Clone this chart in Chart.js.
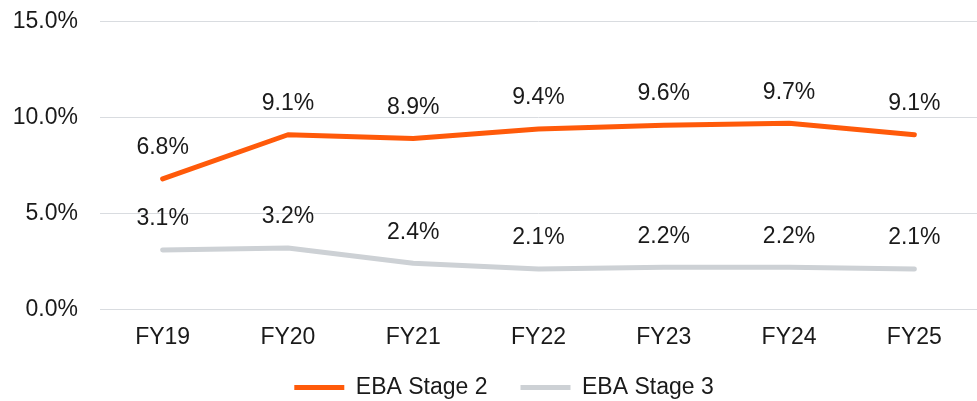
<!DOCTYPE html>
<html>
<head>
<meta charset="utf-8">
<script src="https://cdn.jsdelivr.net/npm/chart.js@4"></script>
<style>
html,body{margin:0;padding:0;background:#fff;}
#wrap{width:977px;height:401px;position:relative;}
</style>
</head>
<body>
<div id="wrap"><canvas id="c"></canvas></div>
<script>
const categories = ['FY19','FY20','FY21','FY22','FY23','FY24','FY25'];
const stage2 = [6.8, 9.1, 8.9, 9.4, 9.6, 9.7, 9.1];
const stage3 = [3.1, 3.2, 2.4, 2.1, 2.2, 2.2, 2.1];
const yTicks = [0, 5, 10, 15];

const FONT = '"Liberation Sans", Arial, sans-serif';
const FS = 23;

const labelPlugin = {
  id: 'valueLabels',
  afterDatasetsDraw(chart) {
    const ctx = chart.ctx;
    ctx.save();
    ctx.font = FS + 'px ' + FONT;
    ctx.fillStyle = '#1a1a1a';
    ctx.textAlign = 'center';
    ctx.textBaseline = 'middle';
    chart.data.datasets.forEach((ds, i) => {
      const meta = chart.getDatasetMeta(i);
      meta.data.forEach((pt, j) => {
        ctx.fillText(ds.data[j].toFixed(1) + '%', pt.x, pt.y - 31);
      });
    });
    ctx.restore();
  }
};

// nudge the legend drawing position
const legendNudge = {
  id: 'legendNudge',
  beforeUpdate(chart) {
    const lg = chart.legend;
    if (lg && !lg._nudged) {
      const orig = lg.draw;
      lg.draw = function (...args) {
        const c = this.ctx;
        c.save();
        c.translate(7, -22);
        orig.apply(this, args);
        c.restore();
      };
      lg._nudged = true;
    }
  }
};

new Chart(document.getElementById('c'), {
  type: 'line',
  data: {
    labels: categories,
    datasets: [
      { label: 'EBA Stage 2', data: stage2, borderColor: '#FF5A0A', backgroundColor: '#FF5A0A', borderWidth: 5, pointRadius: 0, tension: 0, borderCapStyle: 'round', borderJoinStyle: 'round' },
      { label: 'EBA Stage 3', data: stage3, borderColor: '#CDD1D5', backgroundColor: '#CDD1D5', borderWidth: 5, pointRadius: 0, tension: 0, borderCapStyle: 'round', borderJoinStyle: 'round' }
    ]
  },
  options: {
    responsive: true,
    maintainAspectRatio: false,
    animation: false,
    layout: { padding: { top: 0, right: -5, left: 12, bottom: -30 } },
    plugins: {
      tooltip: { enabled: false },
      legend: {
        position: 'bottom',
        labels: {
          font: { family: FONT, size: FS },
          color: '#1a1a1a',
          boxWidth: 50,
          boxHeight: 5,
          padding: 33,
          generateLabels(chart) {
            return chart.data.datasets.map((ds, i) => ({
              text: ds.label, fillStyle: ds.borderColor, strokeStyle: ds.borderColor,
              lineWidth: 0, datasetIndex: i, hidden: false, fontColor: '#1a1a1a'
            }));
          }
        }
      }
    },
    scales: {
      x: {
        offset: true,
        grid: { display: false, tickLength: 0 },
        border: { display: false },
        ticks: { font: { family: FONT, size: FS }, color: '#1a1a1a', padding: 14, maxRotation: 0 }
      },
      y: {
        min: 0, max: 15,
        afterBuildTicks(axis) { axis.ticks = yTicks.map(v => ({ value: v })); },
        afterFit(axis) { axis.width = 88; axis.paddingTop = 21.5; axis.paddingBottom = 14; },
        grid: { color: '#D9DCE0', lineWidth: 1, drawTicks: false },
        border: { display: false },
        ticks: { font: { family: FONT, size: FS }, color: '#1a1a1a', padding: 22, callback: v => v.toFixed(1) + '%' }
      }
    }
  },
  plugins: [labelPlugin, legendNudge]
});
</script>
</body>
</html>
